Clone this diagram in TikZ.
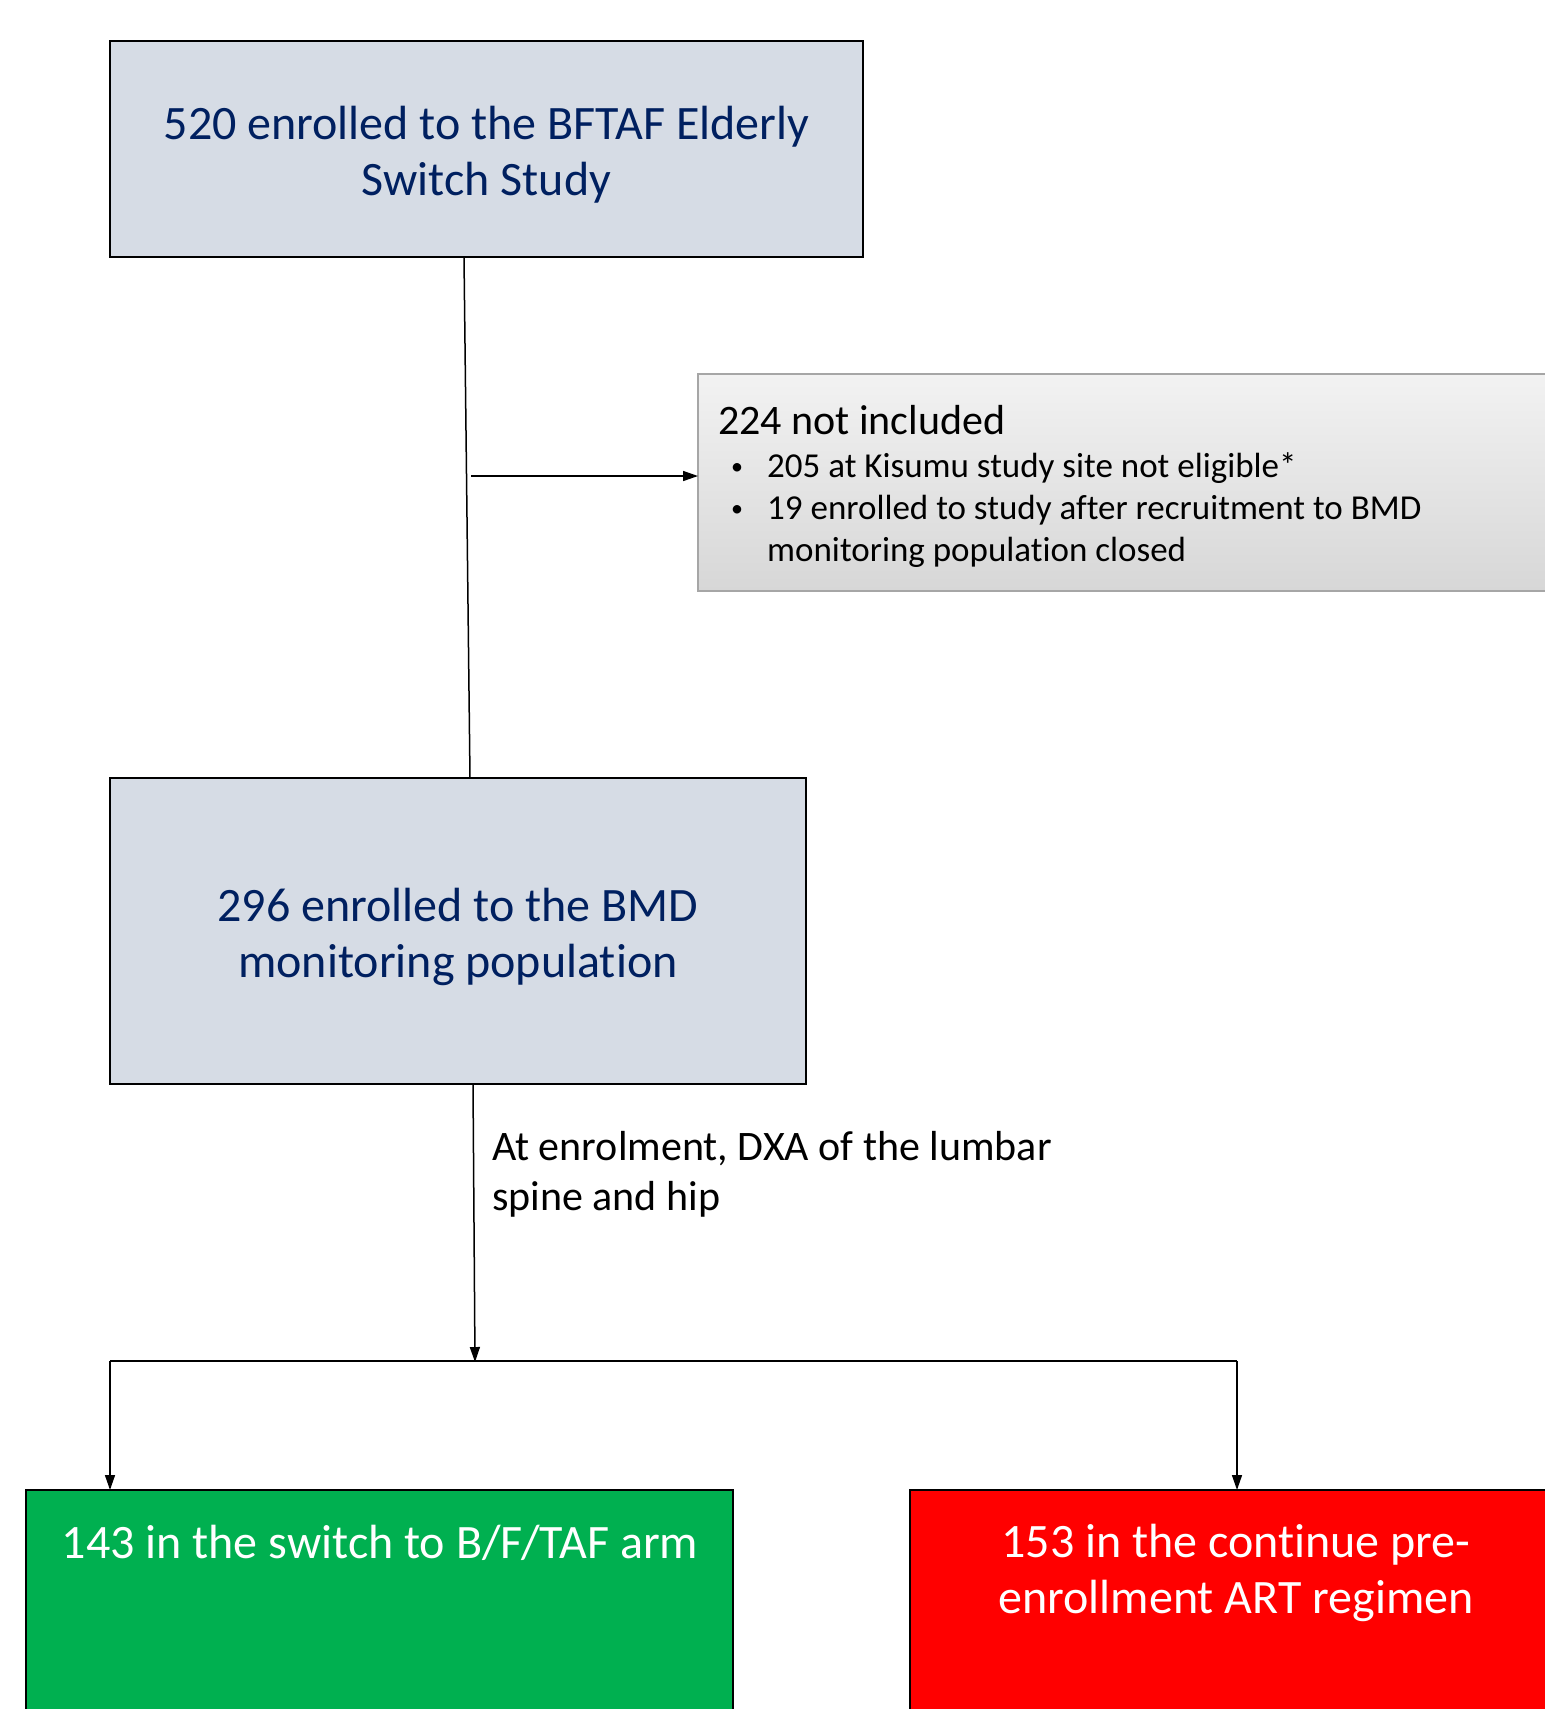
\documentclass[tikz,border=0pt]{standalone}
\usepackage{fontspec}
\setmainfont{Carlito}[Ligatures=NoCommon]
\usetikzlibrary{arrows.meta}
\definecolor{navy}{HTML}{002060}
\definecolor{boxfill}{HTML}{D6DCE5}
\definecolor{armgreen}{HTML}{00B050}
\definecolor{armred}{HTML}{FF0000}
\definecolor{greyedge}{HTML}{A6A6A6}
\definecolor{greytop}{HTML}{F2F2F2}
\definecolor{greybot}{HTML}{D7D7D7}
\newcommand{\smallbullet}{\makebox[36pt][l]{\raisebox{3pt}{\fontsize{24}{24}\selectfont•}}}
\begin{document}
\begin{tikzpicture}[x=1pt,y=-1pt,
  box/.style={draw=black, line width=2.2pt, fill=boxfill, inner sep=0pt, outer sep=0pt, anchor=north west},
  boxtext/.style={text=navy, inner sep=0pt, align=center, font=\fontsize{48}{56}\selectfont},
  greybox/.style={draw=greyedge, line width=1.6pt, top color=greytop, bottom color=greybot,
    inner sep=0pt, outer sep=0pt, anchor=north west},
  armbox/.style={draw=black, line width=2.2pt, inner sep=0pt, outer sep=0pt, anchor=north west},
  armtext/.style={text=white, inner sep=0pt, align=center, font=\fontsize{48}{56}\selectfont},
  plain/.style={inner sep=0pt, text=black},
  conn/.style={line width=1.5pt},
  arr/.style={conn, -{Triangle[length=15pt,width=10pt]}}]
\useasboundingbox (0,0) rectangle (1545,1709);
\clip (0,0) rectangle (1545,1709);
% boxes
\node[box, minimum width=753, minimum height=216] (enrol) at (110,41) {};
\node[boxtext] (enrolt) at (486.5,154.5) {520 enrolled to the BFTAF Elderly\\Switch Study};
\node[greybox, minimum width=880, minimum height=217] (excl) at (698,374) {};
\node[box, minimum width=696, minimum height=306] (bmd) at (110,778) {};
\node[boxtext] (bmdt) at (458,936.5) {296 enrolled to the BMD\\monitoring population};
\node[armbox, fill=armgreen, minimum width=707, minimum height=260] (sw) at (26,1490) {};
\node[armbox, fill=armred, minimum width=660, minimum height=260] (cont) at (910,1490) {};
% texts
\node[plain, anchor=base west, font=\fontsize{42}{50}\selectfont] (exhead) at (718,434) {224 not included};
\node[plain, anchor=base west, font=\fontsize{35}{42}\selectfont] (exb1) at (731,477) {\smallbullet 205 at Kisumu study site not eligible*};
\node[plain, anchor=base west, font=\fontsize{35}{42}\selectfont] (exb2) at (731,519) {\smallbullet 19 enrolled to study after recruitment to BMD};
\node[plain, anchor=base west, font=\fontsize{35}{42}\selectfont] (exb3) at (767,561) {monitoring population closed};
\node[plain, anchor=west, align=left, font=\fontsize{42}{50}\selectfont] (dxa) at (492,1174) {At enrolment, DXA of the lumbar\\spine and hip};
\node[armtext] (swt) at (380,1543) {143 in the switch to B/F/TAF arm};
\node[armtext] (contt) at (1236,1573) {153 in the continue pre-\\enrollment ART regimen};
% connectors
\coordinate (t1) at (464,257);
\coordinate (b1) at (470,778);
\draw[conn] (t1) -- (b1);
\coordinate (br) at (471,476);
\draw[arr] (br) -- (excl.west |- br);
\coordinate (t2) at (473,1084);
\coordinate (split) at (475,1362);
\draw[arr] (t2) -- (split);
\coordinate (hl) at (110,1361);
\coordinate (hr) at (1237,1361);
\draw[conn] (hl) -- (hr);
\draw[arr] (hl) -- (hl |- sw.north);
\draw[arr] (hr) -- (hr |- cont.north);
\end{tikzpicture}
\end{document}
